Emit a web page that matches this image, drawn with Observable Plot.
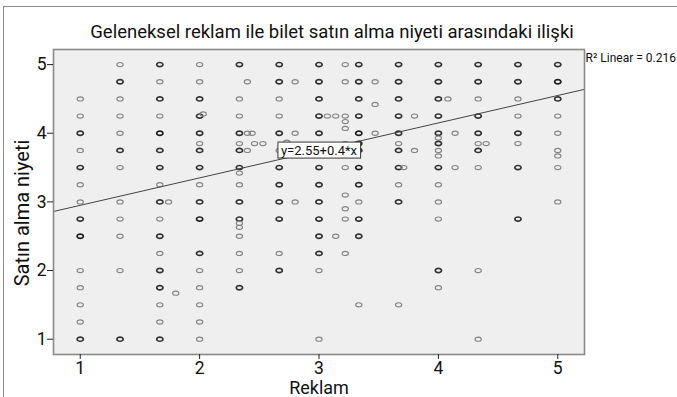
<!DOCTYPE html>
<html><head><meta charset="utf-8">
<script src="https://cdn.jsdelivr.net/npm/d3@7"></script>
<script src="https://cdn.jsdelivr.net/npm/@observablehq/plot@0.6"></script>
<style>
body{margin:0;background:#fff;}
#wrap{position:relative;width:677px;height:397px;overflow:hidden;}
#outer{position:absolute;left:3px;top:6px;width:800px;height:500px;border:1px solid #8c8c8c;box-sizing:border-box;}
#chart{position:absolute;left:0;top:0;}
</style></head><body><div id="wrap"><div id="outer"></div><div id="chart"></div></div>
<script>
// ---- data ----
const title = "Geleneksel reklam ile bilet satın alma niyeti arasındaki ilişki";
const xLabel = "Reklam";
const yLabel = "Satın alma niyeti";
const r2Label = "R² Linear = 0.216";
const xTicks = [1, 2, 3, 4, 5];
const yTicks = [1, 2, 3, 4, 5];
const intercept = 2.55;
const slope = 0.4;
const eqLabel = "y=2.55+0.4*x";

// Columns of Satın alma niyeti values for each Reklam level (repeats = overlapping cases)
const columnX = [1, 4/3, 5/3, 2, 7/3, 8/3, 3, 10/3, 11/3, 4, 13/3, 14/3, 5];
const yAt1    = [4.5,4.25,4,4,3.75,3.5,3.5,3.25,3,2.75,2.75,2.5,2.5,2.5,2,1.75,1.5,1.25,1,1];
const yAt1_33 = [5,4.75,4.75,4.5,4.25,4,3.75,3.75,3.5,3,2.75,2.5,2,1,1];
const yAt1_67 = [5,5,4.75,4.5,4.5,4.25,4,4,4,3.75,3.75,3.5,3.5,3.25,3,3,2.75,2.5,2.5,2.25,2,2,1.75,1.75,1.5,1.25,1,1];
const yAt2    = [5,4.75,4.5,4.5,4.25,4.25,4,4,3.85,3.75,3.75,3.5,3.5,3.25,3,3,2.75,2.75,2.75,2.25,2.25,2,1.75,1.5,1.25,1];
const yAt2_33 = [5,5,4.5,4.25,4,4,3.85,3.75,3.75,3.5,3.5,3.42,3.25,3,3,2.75,2.75,2.69,2.63,2.5,2.25,2,1.75,1.75];
const yAt2_67 = [5,5,4.75,4.75,4.5,4.25,4,4,3.75,3.5,3.5,3.25,3.25,3,3,2.75,2.75,2.25,2,2];
const yAt3    = [5,5,4.75,4.75,4.5,4.5,4.25,4.25,4,4,3.75,3.5,3.5,3.25,3.25,3,3,2.75,2.75,2.5,2.5,2.25,2.25,2,1];
const yAt3_33 = [5,5,4.75,4.75,4.5,4.5,4.25,4.25,4,4,4,3.85,3.85,3.75,3.75,3.5,3.5,3.5,3.25,3.25,3,2.75,2.75,2.5,2.5,1.5];
const yAt3_67 = [5,5,4.75,4.75,4.5,4.5,4.25,4.25,4,4,3.85,3.75,3.75,3.5,3.5,3.25,3,3,1.5];
const yAt4    = [5,5,4.75,4.75,4.5,4.5,4.25,4.25,4,4,3.93,3.85,3.85,3.75,3.67,3.5,3.5,3.25,3,2.75,2,2,1.75];
const yAt4_33 = [5,5,4.75,4.75,4.5,4.25,4.25,4,4,3.85,3.75,3.75,3.5,2,1];
const yAt4_67 = [5,5,4.75,4.75,4.5,4.25,4,4,3.85,3.5,3.5,2.75,2.75];
const yAt5    = [5,5,4.75,4.75,4.75,4.5,4.5,4.25,4,3.75,3.67,3.5,3];
const columnY = [yAt1,yAt1_33,yAt1_67,yAt2,yAt2_33,yAt2_67,yAt3,yAt3_33,yAt3_67,yAt4,yAt4_33,yAt4_67,yAt5];

// Off-grid cases
const extraX = [1.74,1.8,2.03,2.4,2.4,2.44,2.46,2.53,2.4,2.8,2.8,2.8,2.73,3.07,3.14,3.14,
                3.22,3.22,3.22,3.22,3.22,3.22,3.22,3.22,3.22,3.22,3.22,
                3.47,3.47,3.47,3.71,3.8,3.8,4.08,4.14,4.14,4.4];
const extraY = [3,1.67,4.28,4.75,4,4,3.85,3.85,3.75,4.75,4,3,3.87,4.25,4.25,2.5,
                5,4.75,4.25,4.17,4.07,3.85,3.5,3.1,2.9,2.75,2.25,
                4.75,4.42,4,3.5,4.25,3.75,4.5,4,3.5,3.85];

// ---- build table: one row per plotted position, n = overlapping cases ----
const cases = [];
columnX.forEach((x, i) => columnY[i].forEach(y => cases.push({x, y})));
extraX.forEach((x, i) => cases.push({x, y: extraY[i]}));
const points = Array.from(
  d3.rollup(cases, v => ({x: v[0].x, y: v[0].y, n: v.length}), d => `${d.x.toFixed(3)}|${d.y}`).values()
);

const xDomain = [0.776, 5.224];
const yDomain = [0.777, 5.22];
const lineData = xDomain.map(x => ({x, y: intercept + slope * x}));
const eqPos = [{x: 3, y: intercept + slope * 3, text: eqLabel}];

const ellipse = {
  draw(ctx, size) {
    const r = Math.sqrt(size / Math.PI);
    const rx = r * 1.2, ry = r * 0.8, k = 0.5523;
    ctx.moveTo(rx, 0);
    ctx.bezierCurveTo(rx, ry * k, rx * k, ry, 0, ry);
    ctx.bezierCurveTo(-rx * k, ry, -rx, ry * k, -rx, 0);
    ctx.bezierCurveTo(-rx, -ry * k, -rx * k, -ry, 0, -ry);
    ctx.bezierCurveTo(rx * k, -ry, rx, -ry * k, rx, 0);
    ctx.closePath();
  }
};

const plot = Plot.plot({
  width: 677, height: 397,
  marginLeft: 53, marginRight: 93, marginTop: 49, marginBottom: 43,
  style: {fontFamily: "Roboto, sans-serif", fontSize: "17px", color: "#222", background: "transparent", overflow: "visible"},
  x: {domain: xDomain},
  y: {domain: yDomain},
  marks: [
    Plot.frame({fill: "#efefef", stroke: "none"}),
    Plot.dot(points, {
      x: "x", y: "y", symbol: ellipse, r: 2.6, fill: "none",
      stroke: d => d.n > 2 ? "#1e1e1e" : d.n > 1 ? "#333" : "#858585",
      strokeWidth: d => d.n > 1 ? 1.7 : 1.15
    }),
    Plot.line(lineData, {x: "x", y: "y", stroke: "#444", strokeWidth: 1}),
    Plot.text(eqPos, {x: "x", y: "y", text: "text", fontSize: 13, fill: "#111", className: "eqlabel"}),
    Plot.frame({stroke: "#8a8a8a", strokeWidth: 1.6}),
    Plot.axisX({ticks: xTicks, tickFormat: "d", tickSize: 5, tickPadding: 2, label: null, fontSize: 17.5, fill: "#111"}),
    Plot.axisY({ticks: yTicks, tickFormat: "d", tickSize: 6, tickPadding: 1, label: null, fontSize: 17.5, fill: "#111"}),
    Plot.text([title], {frameAnchor: "top", lineAnchor: "middle", textAnchor: "middle", dx: 13, dy: -17, fontSize: 18.5, fill: "#111"}),
    Plot.text([r2Label], {frameAnchor: "top-right", lineAnchor: "middle", textAnchor: "start", dx: 1, dy: 9, fontSize: 12, fill: "#111"}),
    Plot.text([xLabel], {frameAnchor: "bottom", lineAnchor: "middle", textAnchor: "middle", dy: 34, fontSize: 18, fill: "#111"}),
    Plot.text([yLabel], {frameAnchor: "left", lineAnchor: "middle", textAnchor: "middle", rotate: -90, dx: -31, dy: 11, fontSize: 20, fill: "#111"})
  ]
});
document.getElementById("chart").append(plot);

// white box behind the equation label
plot.querySelectorAll("g.eqlabel text").forEach(t => {
  const b = t.getBBox();
  const rect = document.createElementNS("http://www.w3.org/2000/svg", "rect");
  rect.setAttribute("x", b.x - 3);
  rect.setAttribute("y", b.y - 0.5);
  rect.setAttribute("width", b.width + 6);
  rect.setAttribute("height", b.height + 1);
  rect.setAttribute("fill", "#fff");
  rect.setAttribute("stroke", "#333");
  rect.setAttribute("stroke-width", 1);
  if (t.getAttribute("transform")) rect.setAttribute("transform", t.getAttribute("transform"));
  t.parentNode.insertBefore(rect, t);
});
</script>
</body></html>
